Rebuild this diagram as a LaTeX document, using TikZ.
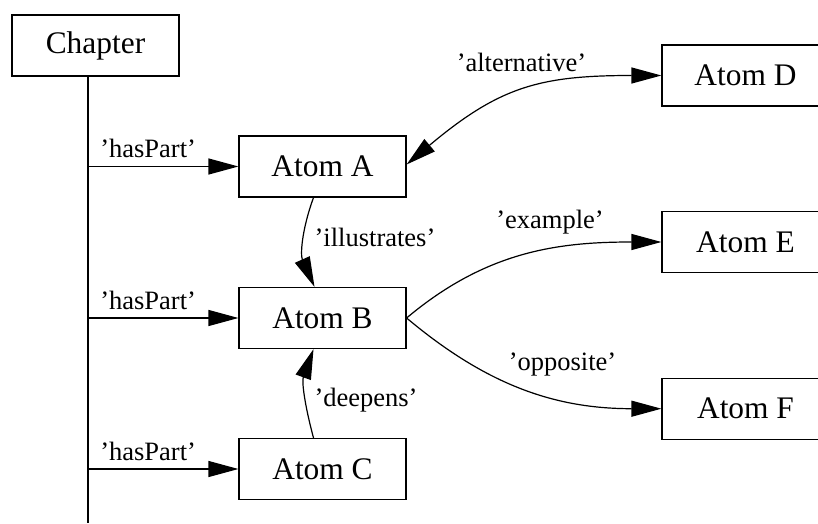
\documentclass[tikz,border=0pt]{standalone}
\usepackage{fontspec}
\setmainfont{Liberation Serif}
\usetikzlibrary{arrows.meta}

\begin{document}
\begin{tikzpicture}
    [x=1pt, y=1pt,
    line width=1.2pt,
    >={Triangle[length=30pt,width=16pt]},
    atom/.style={draw, rectangle, inner sep=0pt,
      minimum width=167pt, minimum height=61pt,
      font=\fontsize{31.4}{36}\selectfont},
    lbl/.style={inner sep=0pt, font=\fontsize{26.5}{30}\selectfont}]
    \useasboundingbox (0,0) rectangle (818,523);
    \node[atom] (chapter) at (95.5,477.5) {Chapter};
    \node[atom] (atomA) at (322.5,356.5) {Atom A};
    \node[atom] (atomB) at (322.5,205) {Atom B};
    \node[atom] (atomC) at (322.5,54) {Atom C};
    \node[atom] (atomD) at (745.5,447.5) {Atom D};
    \node[atom] (atomE) at (745.5,281) {Atom E};
    \node[atom] (atomF) at (745.5,114.3) {Atom F};
    % the chapter line and its parts
    \coordinate (trunk) at (88,0);
    \draw (chapter.south -| trunk) -- (trunk);
    \foreach \a in {atomA,atomB,atomC}
      \draw[->] (\a -| trunk) -- node[lbl, above=8pt, pos=.4] (has\a) {'hasPart'} (\a);
    % links between atoms
    \draw[<->] ([yshift=2pt]atomA.east) to[out=40, in=180, looseness=1.15] (atomD.west);
    \draw[->] ([xshift=-9pt]atomA.south) to[out=250, in=114] ([xshift=-8pt]atomB.north);
    \draw[->] ([xshift=-9pt]atomC.north) to[out=105, in=250] ([xshift=-9pt]atomB.south);
    \draw[->] (atomB.east) to[out=40, in=180] (atomE.west);
    \draw[->] (atomB.east) to[out=-40, in=180] (atomF.west);
    \node[lbl] (alt) at (521.5,461) {'alternative'};
    \node[lbl] (ill) at (375,286) {'illustrates'};
    \node[lbl] (deep) at (366,123) {'deepens'};
    \node[lbl] (ex) at (550,301) {'example'};
    \node[lbl] (opp) at (562.5,158) {'opposite'};
\end{tikzpicture}
\end{document}
